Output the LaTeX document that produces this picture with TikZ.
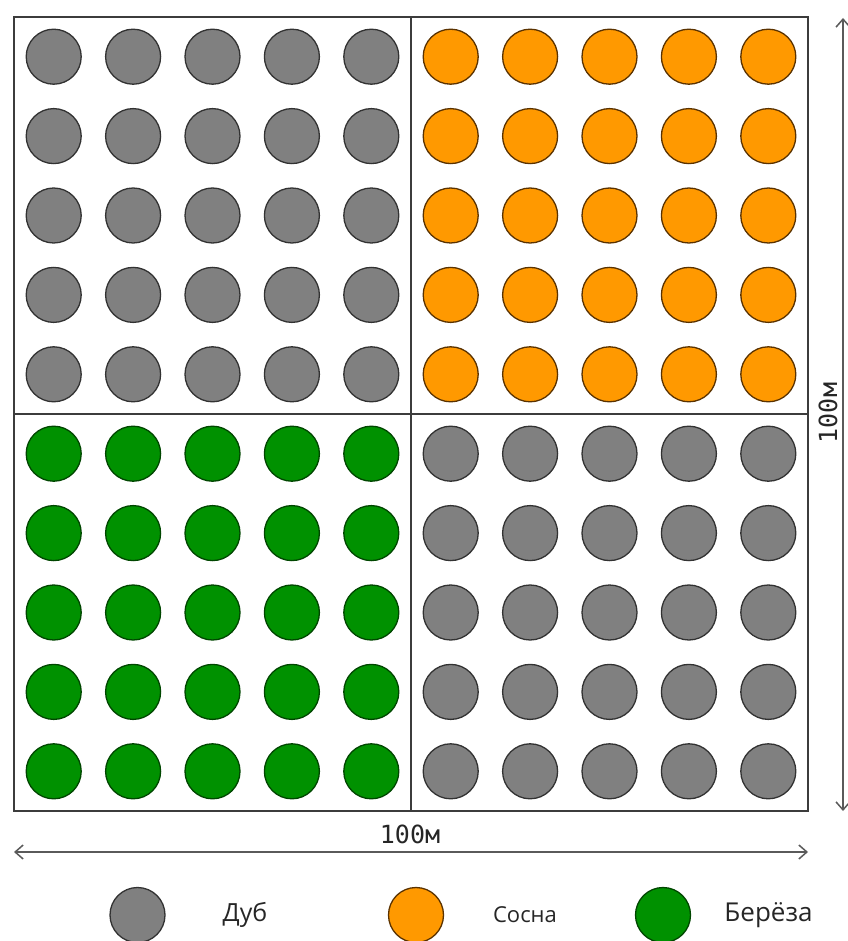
\documentclass[tikz,border=0pt]{standalone}
\usepackage{fontspec}
\setmainfont{Open Sans}
\newfontfamily\rulerfont{DejaVu Sans Mono}
\usetikzlibrary{arrows.meta}
\definecolor{oakfill}{RGB}{128,128,128}
\definecolor{oakedge}{RGB}{50,50,50}
\definecolor{pinefill}{RGB}{255,153,0}
\definecolor{pineedge}{RGB}{90,50,0}
\definecolor{birchfill}{RGB}{0,145,0}
\definecolor{birchedge}{RGB}{0,70,0}
\definecolor{plotline}{RGB}{60,60,60}
\definecolor{rulergray}{RGB}{90,90,90}
\tikzset{
  tree/.style={circle,line width=1.3pt,minimum size=55pt,inner sep=0pt},
  oak/.style={tree,fill=oakfill,draw=oakedge},
  pine/.style={tree,fill=pinefill,draw=pineedge},
  birch/.style={tree,fill=birchfill,draw=birchedge},
  ruler/.style={{Straight Barb[length=8pt,width=14pt]}-{Straight Barb[length=8pt,width=14pt]},
                line width=1.5pt,draw=rulergray},
  rulerlabel/.style={font=\rulerfont\fontsize{25}{25}\selectfont,text=black!85,inner sep=0pt},
  legendlabel/.style={font=\fontsize{22}{22}\selectfont,text=black!85,inner sep=0pt}
}

\begin{document}
\begin{tikzpicture}[x=1pt,y=-1pt]
  \useasboundingbox (0,0) rectangle (847,941);
  % plot border and quarters
  \coordinate (nw) at (14,17);
  \coordinate (se) at (808,811);
  \coordinate (midtop) at (411,17);
  \coordinate (midbot) at (411,811);
  \coordinate (midleft) at (14,414);
  \coordinate (midright) at (808,414);
  \draw[plotline,line width=2pt] (nw) rectangle (se);
  \draw[plotline,line width=1.5pt] (midtop) -- (midbot);
  \draw[plotline,line width=1.5pt] (midleft) -- (midright);

  % trees
  \foreach \i in {0,...,4}
    \foreach \j in {0,...,4} {
      \node[oak] (oakA-\i-\j) at ({53.7+79.4*\i},{56.7+79.4*\j}) {};
      \node[pine] (pine-\i-\j) at ({450.7+79.4*\i},{56.7+79.4*\j}) {};
      \node[birch] (birch-\i-\j) at ({53.7+79.4*\i},{453.7+79.4*\j}) {};
      \node[oak] (oakB-\i-\j) at ({450.7+79.4*\i},{453.7+79.4*\j}) {};
    }

  % rulers
  \coordinate (hleft) at (14,852);
  \coordinate (hright) at (808,852);
  \coordinate (vtop) at (843,18);
  \coordinate (vbot) at (843,811);
  \draw[ruler] (hleft) -- (hright);
  \draw[ruler] (vtop) -- (vbot);
  \node[rulerlabel] (hlen) at (410,834) {100м};
  \node[rulerlabel,rotate=90] (vlen) at (828,413) {100м};

  % legend
  \node[oak] (keyoak) at (137.5,915) {};
  \node[pine] (keypine) at (416,915) {};
  \node[birch] (keybirch) at (663,915) {};
  \node[legendlabel,font=\fontsize{25}{25}\selectfont] (txtoak) at (245,915) {Дуб};
  \node[legendlabel] (txtpine) at (525,915) {Сосна};
  \node[legendlabel,font=\fontsize{26}{26}\selectfont] (txtbirch) at (768.5,915) {Берёза};
\end{tikzpicture}
\end{document}
